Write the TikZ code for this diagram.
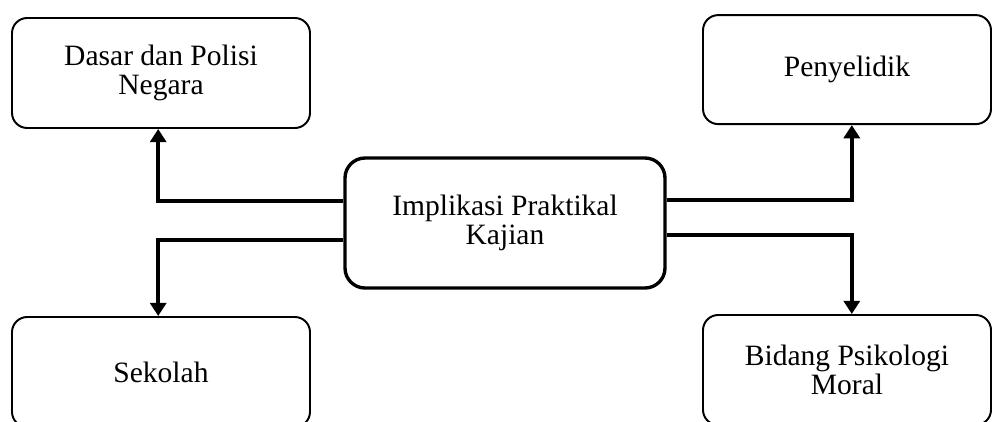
\documentclass[tikz,border=0pt]{standalone}
\usepackage{fontspec}
\setmainfont{Liberation Serif}
\usepackage{tikz}
\usetikzlibrary{arrows.meta,positioning}
\tikzset{
  % teks semua node
  every node/.append style={font=\fontsize{21}{20.5}\selectfont},
  % kotak kecil
  box/.style={
    draw=black,
    line width=1.4pt,
    rounded corners=0.38cm,
    minimum width=7.45cm,
    minimum height=2.75cm,
    align=center
  },
  % kotak tengah
  mainbox/.style={box, line width=2.4pt, rounded corners=0.5cm,
    minimum width=8cm, minimum height=3.25cm},
  % anak panah
  arr/.style={-{Triangle[length=0.33cm,width=0.4cm]}, line width=2.8pt},
}
\begin{document}
\begin{tikzpicture}
    \useasboundingbox (0,0) rectangle (24.8,-10.525);

    % kotak tengah
    \node[mainbox] (impl) at (12.625,-5.575) {Implikasi Praktikal\\Kajian};

    % empat kotak di sudut
    \node[box] (dasar) at (4.025,-1.825) {Dasar dan Polisi\\Negara};
    \node[box, minimum width=7.2cm, minimum height=2.725cm] (penyelidik) at (21.175,-1.74) {Penyelidik};
    \node[box] (sekolah) at (4.025,-9.3) {Sekolah};
    \node[box, minimum width=7.2cm] (moral) at (21.175,-9.25) {Bidang Psikologi\\Moral};

    \draw[arr] ([yshift=0.55cm]impl.west) -| ([xshift=-0.07cm]dasar.south);
    \draw[arr] ([yshift=-0.43cm]impl.west) -| ([xshift=-0.07cm]sekolah.north);
    \draw[arr] ([yshift=0.58cm]impl.east) -| ([xshift=0.12cm]penyelidik.south);
    \draw[arr] ([yshift=-0.3cm]impl.east) -| ([xshift=0.12cm]moral.north);
\end{tikzpicture}
\end{document}
